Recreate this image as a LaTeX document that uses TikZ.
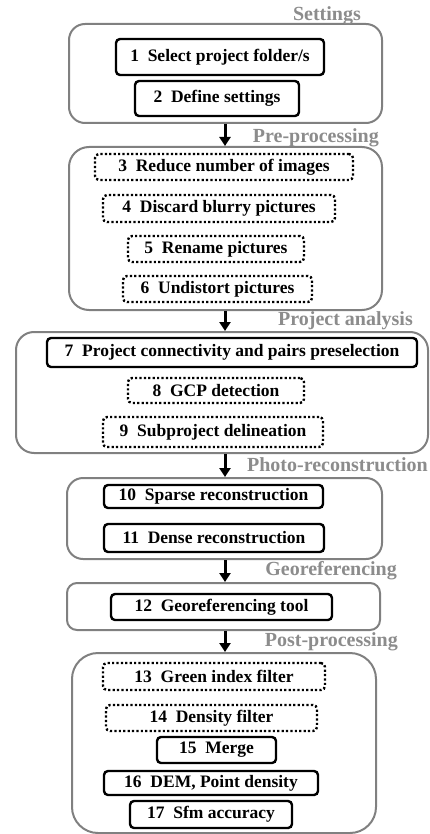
\documentclass[tikz,border=0pt]{standalone}
\usepackage{fontspec}
\setmainfont{Liberation Serif}
\usetikzlibrary{arrows.meta}
\definecolor{boxgray}{RGB}{128,128,128}
\definecolor{labgray}{RGB}{140,140,140}
\tikzset{
  outerbox/.style={draw=boxgray, line width=2pt, rounded corners=16pt, inner sep=0pt},
  solidstep/.style={draw=black, line width=2.4pt, rounded corners=4pt, inner sep=0pt,
     font=\fontsize{17.5}{20}\selectfont\bfseries},
  dotstep/.style={draw=black, line width=2.4pt, dash pattern=on 2.2pt off 2.2pt, rounded corners=4pt, inner sep=0pt,
     font=\fontsize{17.5}{20}\selectfont\bfseries},
  phase/.style={text=labgray, inner sep=0pt, anchor=east, font=\fontsize{20}{22}\selectfont\bfseries},
  flow/.style={draw=black, line width=3pt, -{Triangle[length=9pt,width=11pt]}},
}
\begin{document}
\begin{tikzpicture}[x=1pt,y=-1pt]
\useasboundingbox (0,0) rectangle (430,834);
% outer boxes
\node[outerbox, minimum width=313pt, minimum height=99pt] (settings) at (225.5,73.5) {};
\node[outerbox, minimum width=313pt, minimum height=163pt, rounded corners=20pt] (pre) at (225.5,228.5) {};
\node[outerbox, minimum width=412pt, minimum height=121pt, rounded corners=18pt] (proj) at (222,392.5) {};
\node[outerbox, minimum width=315pt, minimum height=81pt] (photo) at (224.5,518.5) {};
\node[outerbox, minimum width=313pt, minimum height=47pt, rounded corners=10pt] (geo) at (223.5,606.5) {};
\node[outerbox, minimum width=304pt, minimum height=180pt, rounded corners=26pt] (post) at (224,743) {};
% phase labels
\node[phase] (lsettings) at (361,16) {Settings};
\node[phase] (lpre) at (379,138) {Pre-processing};
\node[phase] (lproj) at (413,321) {Project analysis};
\node[phase] (lphoto) at (428,465) {Photo-reconstruction};
\node[phase] (lgeo) at (397,571) {Georeferencing};
\node[phase] (lpost) at (398,642) {Post-processing};
% steps
\node[solidstep, minimum width=208pt, minimum height=36pt] (s1) at (220,57) {1\ \ Select project folder/s};
\node[solidstep, minimum width=164pt, minimum height=35pt] (s2) at (217,98.5) {2\ \ Define settings};
\node[dotstep, minimum width=258pt, minimum height=26pt] (s3) at (224,167) {3\ \ Reduce number of images};
\node[dotstep, minimum width=232pt, minimum height=27pt] (s4) at (219,208.5) {4\ \ Discard blurry pictures};
\node[dotstep, minimum width=176pt, minimum height=26pt] (s5) at (216,249) {5\ \ Rename pictures};
\node[dotstep, minimum width=189pt, minimum height=26pt] (s6) at (217.5,289) {6\ \ Undistort pictures};
\node[solidstep, minimum width=370pt, minimum height=29pt] (s7) at (232,352.5) {7\ \ Project connectivity and pairs preselection};
\node[dotstep, minimum width=176pt, minimum height=25pt] (s8) at (216,390.5) {8\ \ GCP detection};
\node[dotstep, minimum width=220pt, minimum height=30pt] (s9) at (213,432) {9\ \ Subproject delineation};
\node[solidstep, minimum width=219pt, minimum height=23pt] (s10) at (213.5,496.5) {10\ \ Sparse reconstruction};
\node[solidstep, minimum width=220pt, minimum height=28pt] (s11) at (214,538) {11\ \ Dense reconstruction};
\node[solidstep, minimum width=221pt, minimum height=26pt] (s12) at (221.5,607) {12\ \ Georeferencing tool};
\node[dotstep, minimum width=222pt, minimum height=27pt] (s13) at (214,676.5) {13\ \ Green index filter};
\node[dotstep, minimum width=211pt, minimum height=26pt] (s14) at (211.5,718) {14\ \ Density filter};
\node[solidstep, minimum width=119pt, minimum height=26pt] (s15) at (216.5,750) {15\ \ Merge};
\node[solidstep, minimum width=214pt, minimum height=24pt] (s16) at (211,783) {16\ \ DEM, Point density};
\node[solidstep, minimum width=162pt, minimum height=27pt] (s17) at (211,814.5) {17\ \ Sfm accuracy};
% arrows
\coordinate (ax) at (225,0);
\draw[flow] (settings.south -| ax) -- (pre.north -| ax);
\draw[flow] (pre.south -| ax) -- (proj.north -| ax);
\draw[flow] (proj.south -| ax) -- (photo.north -| ax);
\draw[flow] (photo.south -| ax) -- (geo.north -| ax);
\draw[flow] (geo.south -| ax) -- (post.north -| ax);
\end{tikzpicture}
\end{document}
